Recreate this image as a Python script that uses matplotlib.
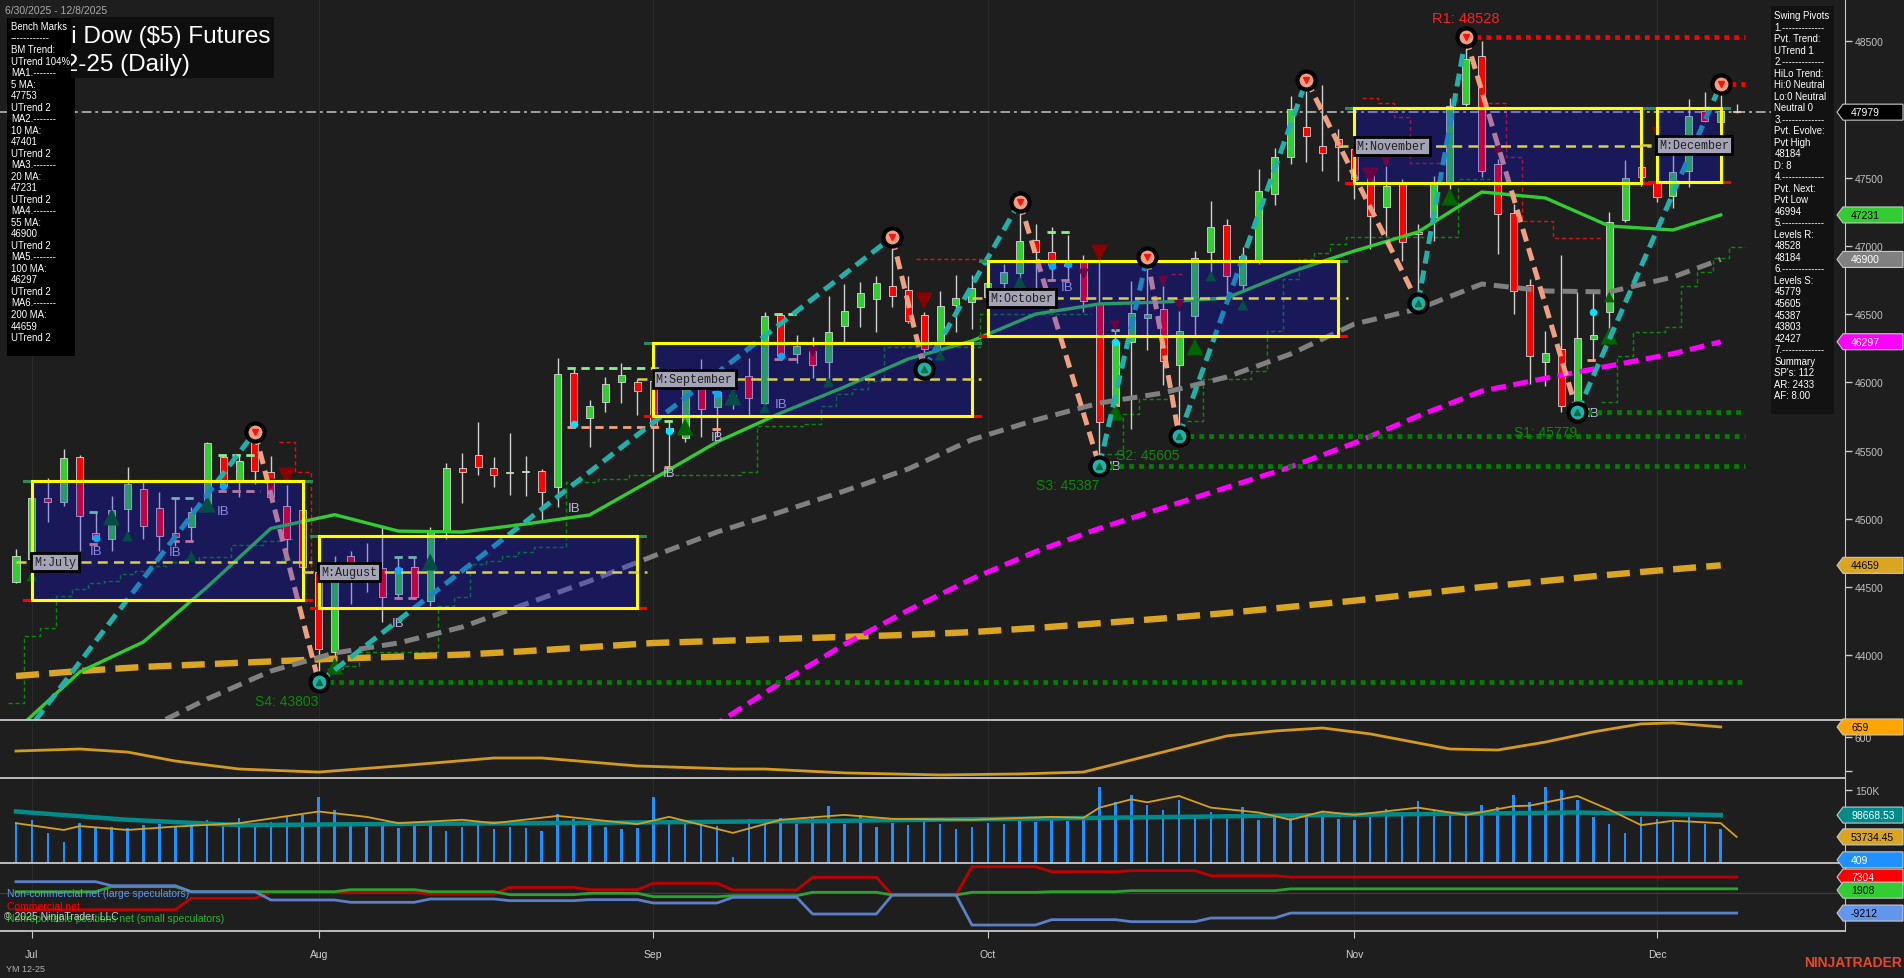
"""Daily YM 12-25 chart (NinjaTrader style) rebuilt with matplotlib."""

import matplotlib

matplotlib.use("Agg")
import matplotlib.pyplot as plt
import numpy as np
from matplotlib.patches import Polygon, Rectangle

plt.rcParams["font.family"] = ["Liberation Sans", "DejaVu Sans"]

W, H = 1904, 979
BG = "#1e1e1e"
GRID = "#2a2a2a"
AXIS = "#c8c8c8"
TICK_TXT = "#c0c0c0"
nan = np.nan

# ---- daily bars, Jul 7 .. Dec 8 2025 (bar index 0..108) ----
opens = [44537, 44705, 45152, 45123, 45453, 44896, 44852, 45072, 45218, 45079,
         44896, 44940, 45108, 45453, 45270, 45570, 45343, 45094, 45064, 44610,
         44024, 44727, 44581, 44639, 44449, 44647, 44398, 44911, 45372, 45467,
         45372, 45336, 45343, 45350, 45233, 46068, 45738, 45856, 46002, 46002,
         46010, 45643, 45592, 45951, 45819, 45905, 46046, 45848, 46493, 46207,
         46229, 46149, 46412, 46552, 46610, 46705, 46676, 46493, 46288, 46566,
         46588, 46625, 46727, 46801, 47042, 46955, 46867, 46881, 46574, 45826,
         46295, 46471, 46537, 46127, 46486, 46955, 47152, 46713, 46881, 47380,
         47650, 47870, 47731, 47782, 47709, 47541, 47284, 47467, 47101, 47211,
         47453, 48039, 48390, 47599, 47240, 46713, 46149, 46244, 45856, 46317,
         46515, 47189, 47577, 47467, 47365, 47548, 47988, 47907, 47990]
highs = [44779, 45255, 45299, 45511, 45467, 45050, 45167, 45379, 45277, 45196,
         45152, 45086, 45563, 45467, 45475, 45636, 45460, 45248, 45189, 44632,
         44727, 44764, 44823, 44947, 44720, 44720, 44940, 45409, 45482, 45709,
         45453, 45629, 45460, 45365, 46178, 46097, 45870, 46039, 46141, 46024,
         46149, 45716, 46046, 46171, 45935, 45988, 46178, 46515, 46508, 46347,
         46332, 46632, 46720, 46735, 46779, 47064, 46779, 46515, 46669, 46786,
         46786, 46771, 46867, 47321, 47160, 47138, 47079, 46933, 46903, 46376,
         46742, 46918, 46705, 46522, 46962, 47328, 47196, 46991, 47563, 47720,
         48100, 48215, 48178, 47856, 47782, 47563, 47585, 47489, 47160, 47511,
         48083, 48528, 48500, 47636, 47306, 46757, 46376, 46933, 46661, 46661,
         47248, 47629, 47658, 47841, 47673, 48075, 48127, 48184, 48040]
lows = [44530, 44684, 44976, 45094, 44764, 44837, 44764, 44903, 44852, 44764,
        44801, 44830, 45086, 45218, 45160, 45255, 45145, 44705, 44647, 43803,
        43973, 44376, 44464, 44244, 44420, 44412, 44361, 44852, 45116, 45321,
        45233, 45174, 45167, 44976, 45086, 45673, 45526, 45782, 45848, 45760,
        45343, 45379, 45563, 45599, 45599, 45804, 45760, 45819, 46185, 46141,
        46032, 46010, 46295, 46405, 46368, 46552, 46434, 46097, 46229, 46368,
        46390, 46574, 46559, 46713, 46647, 46757, 46757, 46515, 45387, 45804,
        45658, 46237, 45980, 45605, 46332, 46808, 46632, 46662, 46867, 47300,
        47600, 47614, 47548, 47475, 47343, 46977, 47072, 46889, 46581, 47035,
        47416, 48024, 47504, 46940, 46500, 45988, 45973, 45782, 45779, 46156,
        46317, 47174, 47438, 47321, 47277, 47431, 47907, 47892, 47975]
closes = [44727, 45152, 45123, 45445, 45020, 44852, 45064, 45255, 44947, 44874,
          44867, 45050, 45555, 45240, 45423, 45350, 45160, 44852, 44647, 44046,
          44632, 44581, 44654, 44427, 44639, 44427, 44903, 45372, 45343, 45379,
          45321, 45340, 45345, 45196, 46061, 45687, 45826, 45988, 46053, 45936,
          45680, 45665, 46024, 45804, 45929, 45895, 45885, 46486, 46193, 46266,
          46127, 46368, 46522, 46654, 46727, 46632, 46449, 46244, 46559, 46618,
          46691, 46727, 46808, 47035, 46955, 46859, 46852, 46596, 45709, 46295,
          46508, 46500, 46156, 46376, 46911, 47138, 46779, 46925, 47401, 47650,
          48000, 47804, 47680, 47724, 47489, 47218, 47438, 47028, 47086, 47467,
          48024, 48368, 47548, 47233, 46669, 46193, 46215, 45826, 46325, 46347,
          47174, 47497, 47504, 47357, 47541, 47951, 47914, 47988, 47979]

# month boundaries on the x axis
month_labels = ["Jul", "Aug", "Sep", "Oct", "Nov", "Dec"]
month_bars = [1, 19, 40, 61, 84, 103]

# moving averages, read every 4th bar
ma_bars = [0, 4, 8, 12, 16, 20, 24, 28, 32, 36, 40, 44, 48, 52,
           56, 60, 64, 68, 72, 76, 80, 84, 88, 92, 96, 100, 104, 107]
ma20 = [43450, 43878, 44098, 44500, 44930, 45030, 44910, 44903, 44962, 45028,
        45292, 45563, 45775, 45966, 46171, 46303, 46500, 46574, 46588, 46618,
        46808, 46962, 47101, 47394, 47350, 47145, 47116, 47226]
ma55 = [43100, 43250, 43450, 43680, 43885, 44017, 44090, 44207, 44376, 44544,
        44727, 44903, 45050, 45204, 45365, 45580, 45724, 45848, 45922, 46039,
        46207, 46427, 46537, 46720, 46669, 46662, 46771, 46900]
ma100 = [nan] * 10 + [43200, 43500, 43800, 44080, 44330, 44560, 44760, 44930,
                      45080, 45230, 45380, 45555, 45753, 45936, 46030, 46120,
                      46210, 46297]
ma200 = [43848, 43885, 43915, 43935, 43955, 43975, 43990, 44005, 44030, 44060,
         44090, 44105, 44120, 44135, 44150, 44170, 44200, 44235, 44270, 44310,
         44355, 44400, 44450, 44500, 44545, 44590, 44630, 44659]

# trailing stop steps (value holds from its bar edge to the next one, nan = gap)
gstop_bars = [-0.5, 0.5, 1.5, 2.5, 3.5, 4.5, 5.5, 6.5, 7.5, 8.5, 9.5, 10.5, 11.5, 13.5,
              15.5, 16.5, 17.5,
              19.5, 20.5, 21.5, 26.5, 27.5, 28.5, 29.5, 30.5, 31.5, 32.5, 34.5, 36.5,
              38.5, 45.5, 46.5, 49.5, 50.5, 51.5, 52.5, 53.5, 54.5, 60.5, 67.5,
              68.5, 69.5, 70.5, 72.5,
              73.5, 74.5, 77.5, 78.5, 79.5, 80.5, 81.5, 82.5, 83.5, 90.5, 92.5,
              99.5, 100.5, 101.5, 103.5, 104.5, 105.5, 106.5, 107.5, 108.5]
gstop_vals = [43651, 44141, 44200, 44434, 44486, 44530, 44544, 44596, 44618, 44654,
              44684, 44698, 44720, 44808, 44837, 44852, nan,
              43900, 43922, 44024, 44361, 44427, 44669, 44691, 44727, 44757, 44793,
              45270, 45292, 45321, 45343, 45680, 45695, 45826, 45914, 45951, 46010,
              46259, 46500, nan,
              45475, 45768, 45878, nan,
              45716, 46024, 46083, 46376, 46757, 46903, 46947, 47013, 47064, 47489, nan,
              45856, 46193, 46368, 46405, 46706, 46808, 46911, 46991, 46991]
rstop_bars = [16.5, 17.5, 18.5, 19.4, 56.5, 61, 72.5, 73.4, 84.5, 85.5, 86.5, 87.5,
              89.7, 92.4, 93.5, 94.5, 96.5, 99.6]
rstop_vals = [45563, 45343, 44618, nan, 46903, nan, 46793, nan, 48083, 48046, 47943,
              47606, nan, 48046, 47650, 47182, 47057, nan]

# inside-bar ranges: mother bar high / low ticks
ibr_start = [4.6, 9.7, 12.7, 23.7, 34.6, 40.7, 43.7, 47.6, 64.7, 68.7, 98.6]
ibr_end = [5.4, 11.4, 15.3, 25.4, 40.4, 41.4, 44.3, 49.3, 66.4, 69.4, 99.4]
ibr_high = [45050, 45152, 45467, 44720, 46105, 45716, 45929, 46500, 47100, 46383, 46661]
ibr_low = [44815, 44838, 45204, 44420, 45673, 45380, 45658, 46171, 46749, 45834, 46163]

# monthly range boxes
box_names = ["July", "August", "September", "October", "November", "December"]
box_start = [1, 19, 40, 61, 84, 103]
box_end = [18, 39, 60, 83, 102, 107]
box_top = [45277, 44874, 46288, 46889, 48009, 48009]
box_bot = [44405, 44347, 45753, 46339, 47460, 47467]
box_mid = [44683, 44610, 46024, 46618, 47731, 47738]

# swing pivots (zig-zag)
piv_bars = [-2, 15, 19, 55, 57, 63, 68, 71, 73, 81, 88, 91, 98, 107]
piv_prices = [43030, 45636, 43803, 47064, 46097, 47321, 45387, 46918, 45605,
              48215, 46581, 48528, 45779, 48184]

# support / resistance levels
sup_names = ["S1", "S2", "S3", "S4"]
sup_levels = [45779, 45605, 45387, 43803]
sup_from = [98, 73, 68, 19]
res_level = 48528
res_from = 91
last_price = 47979

# chart markers
ib_bars = [5, 10, 13, 24, 35, 41, 44, 48, 66, 69, 99]
ib_prices = [44764, 44757, 45057, 44237, 45079, 45335, 45599, 45841, 46698, 45387, 45775]
up_bars = [1, 6, 7, 11, 12, 17, 20, 26, 42, 45, 47, 51, 58, 63, 69, 74, 75, 77, 90, 100, 100]
up_prices = [44581, 45013, 44874, 44727, 45108, 44727, 43921, 44683, 45673, 45892, 45812,
             46002, 46200, 46720, 45782, 46259, 46779, 46566, 47357, 46625, 46339]
up_big = [0, 1, 0, 0, 1, 0, 1, 1, 1, 1, 0, 0, 0, 1, 1, 1, 0, 0, 1, 0, 1]
dn_bars = [16, 17, 50, 57, 67, 68, 69, 72, 73, 85, 86, 93, 103]
dn_prices = [45255, 45314, 46222, 46596, 46793, 46947, 46413, 46742, 46566, 47511,
             47614, 47694, 47834]
dn_big = [0, 1, 0, 1, 0, 1, 0, 0, 0, 1, 0, 0, 0]
dot_bars = [5, 13, 24, 35, 41, 44, 48, 65, 66, 69, 99]
dot_prices = [44859, 45240, 44625, 45695, 45643, 45914, 46193, 46852, 46867, 46295, 46515]

# lower panel 1 (orange oscillator)
osc_bars = [0, 4, 7, 10, 14, 19, 24, 30, 33, 39, 45, 47, 52, 58, 63, 67, 72, 76,
            79, 82, 85, 90, 93, 96, 99, 102, 104, 107]
osc_vals = [517, 529, 511, 458, 411, 393, 429, 476, 476, 429, 411, 411, 388, 376,
            382, 393, 511, 606, 635, 653, 618, 529, 523, 570, 630, 677, 683, 659]

# lower panel 2 (volume, thousands)
volume_k = [85, 89, 62, 44, 82, 75, 75, 72, 78, 80,
            75, 80, 88, 85, 92, 80, 85, 95, 98, 135,
            110, 85, 75, 80, 72, 78, 80, 66, 74, 82,
            70, 75, 72, 65, 100, 90, 80, 75, 70, 72,
            135, 85, 80, 88, 76, 13, 90, 85, 92, 80,
            95, 118, 80, 98, 75, 82, 78, 85, 80, 70,
            75, 82, 80, 88, 84, 90, 86, 95, 157, 125,
            140, 120, 110, 130, 95, 105, 90, 115, 88, 100,
            92, 95, 105, 90, 88, 95, 112, 98, 128, 110,
            100, 105, 120, 115, 140, 125, 157, 150, 130, 95,
            80, 62, 95, 90, 85, 95, 80, 70, 0.4]
vol_slow_bars = [0, 7, 14, 22, 37, 52, 68, 83, 98, 107]
vol_slow_k = [106, 89, 78, 80, 83, 87, 93, 99, 104, 98.7]
vol_fast_bars = [0, 3, 4, 7, 10, 14, 19, 22, 24, 28, 30, 34, 39, 41, 45, 48, 52, 55, 60, 65,
                 67, 68, 70, 71, 73, 75, 78, 80, 82, 84, 88, 91, 94, 95, 98, 100, 102, 104,
                 107, 108]
vol_fast_k = [82, 68, 76, 68, 75, 82, 106, 95, 82, 89, 82, 97, 80, 95, 62, 89, 99, 91, 89, 95,
              93, 114, 131, 125, 138, 114, 104, 89, 106, 99, 114, 99, 117, 118, 138, 110, 78,
              87, 82, 53.7]

# lower panel 3 (COT net positions, weekly)
cot_start = [0, 6, 11, 16, 21, 26, 31, 36, 40, 45, 50, 55, 60, 65, 70, 75, 80]
cot_noncomm = [5190, 3350, 600, -3210, -4280, -2750, -3520, -3060, -4590, -1990,
               -9640, -920, -14690, -12240, -13160, -11480, -9212]
cot_comm = [-7670, -7670, -2430, 320, 320, -460, 2600, 1530, 4440, 1380,
            7200, -920, 12070, 9780, 10240, 7940, 7304]
cot_small = [600, 2900, 600, 600, 1530, 600, -780, -140, -1700, -1240,
             320, -920, 320, 600, 1060, 1060, 1908]

N = len(closes)
bars = np.arange(N)
XLIM = (-1.004, 114.8)

fig = plt.figure(figsize=(W / 100, H / 100), dpi=100, facecolor=BG)


def add_panel(top, bottom, ylim):
    axis = fig.add_axes([0, 1 - bottom / H, 1845 / W, (bottom - top) / H], facecolor=BG)
    axis.set_xlim(*XLIM)
    axis.set_ylim(*ylim)
    for side in ("top", "left", "bottom"):
        axis.spines[side].set_visible(False)
    axis.spines["right"].set_color(AXIS)
    axis.yaxis.tick_right()
    axis.tick_params(axis="y", colors=AXIS, labelcolor=TICK_TXT, length=5, width=1,
                     labelsize=7.5, pad=2)
    axis.tick_params(axis="x", bottom=False, labelbottom=False)
    axis.set_xticks(month_bars)
    axis.grid(axis="x", color=GRID, lw=0.8)
    return axis


ax = add_panel(0, 721, (43526, 48808))
ax_osc = add_panel(721, 779, (358, 700))
ax_vol = add_panel(779, 864, (0, 175))
ax_cot = add_panel(864, 932, (-17440, 13770))

for y in (721, 779, 864, 932):
    fig.add_artist(plt.Line2D([0, 1845 / W], [1 - y / H] * 2, color=AXIS, lw=1.3, zorder=5))

# ---- main price panel ----
ax.set_yticks([44000, 44500, 45000, 45500, 46000, 46500, 47000, 47500, 48000, 48500])

ax.axhline(last_price, color="#a0a0a0", lw=1.4, ls=(0, (5, 2, 1.5, 2)), zorder=2)
ax.plot(gstop_bars, gstop_vals, drawstyle="steps-post", color="#0a8a0a", lw=1.0,
        ls=(0, (3, 2)), zorder=2.5)
ax.plot(rstop_bars, rstop_vals, drawstyle="steps-post", color="#e01010", lw=1.0,
        ls=(0, (3, 2)), zorder=2.5)

body_w = 0.44
for i in bars:
    o, hi, lo, c = opens[i], highs[i], lows[i], closes[i]
    ax.vlines(i, lo, hi, color="#d0d0d0", lw=1.0, zorder=3)
    color = "#32cd32" if c >= o else "#ff0000"
    bottom = min(o, c)
    height = max(abs(c - o), 8)
    ax.add_patch(Rectangle((i - body_w / 2, bottom), body_w, height, facecolor=color,
                           edgecolor="#d8d8d8", lw=0.6, zorder=3.2))

for b0, b1, hi, lo in zip(ibr_start, ibr_end, ibr_high, ibr_low):
    ax.plot([b0, b1], [hi, hi], color="#90ee90", lw=2, ls=(0, (3, 2)), zorder=3.3)
    ax.plot([b0, b1], [lo, lo], color="#f4a080", lw=2, ls=(0, (3, 2)), zorder=3.3)

ax.plot(ma_bars, ma200, color="#daa520", lw=4.6, ls=(0, (3.6, 1.6)), zorder=3.5)
ax.plot(ma_bars, ma100, color="#ff00ff", lw=3.6, ls=(0, (3, 1.5)), zorder=3.5)
ax.plot(ma_bars, ma55, color="#808080", lw=3.6, ls=(0, (3, 1.6)), zorder=3.5)
ax.plot(ma_bars, ma20, color="#32cd32", lw=2.4, zorder=3.6)

for k in range(len(piv_bars) - 1):
    up = piv_prices[k + 1] > piv_prices[k]
    ax.plot(piv_bars[k:k + 2], piv_prices[k:k + 2], color="#20b2aa" if up else "#f0a080",
            lw=3.6, ls=(0, (2.6, 1.4)), zorder=4)

ax.scatter(up_bars, up_prices, marker="^", s=[150 if b else 60 for b in up_big],
           color="#006400", zorder=3.8, linewidths=0)
ax.scatter(dn_bars, dn_prices, marker="v", s=[150 if b else 60 for b in dn_big],
           color="#8b0000", zorder=3.8, linewidths=0)
ax.scatter(dot_bars, dot_prices, s=30, color="#00e5ff", zorder=3.9, linewidths=0)
for b, p in zip(ib_bars, ib_prices):
    ax.text(b, p, "IB", color="#b8b8dc", fontsize=9.5, ha="center", va="center", zorder=3.9)

for name, b0, b1, top, bot, mid in zip(box_names, box_start, box_end, box_top, box_bot, box_mid):
    ax.add_patch(Rectangle((b0, bot), b1 - b0, top - bot, facecolor=(0.06, 0.06, 1.0),
                           alpha=0.27, edgecolor="none", zorder=5))
    ax.plot([b0 - 0.5, b1 + 0.5], [top, top], color="#2e8b57", lw=2.2, zorder=5.5)
    ax.plot([b0 - 0.5, b1 + 0.5], [bot, bot], color="#ff0000", lw=2.2, zorder=5.5)
    ax.add_patch(Rectangle((b0, bot), b1 - b0, top - bot, facecolor="none",
                           edgecolor="#ffff00", lw=2.2, zorder=6))
    ax.plot([b0 - 1, b1 + 0.6], [mid, mid], color="#d8d040", lw=1.8, ls=(0, (4, 2.5)), zorder=6)
    ax.text(b0 + 0.15, mid, "M:" + name, family="Liberation Mono", fontsize=8.5, color="#202020",
            ha="left", va="center", zorder=8,
            bbox=dict(boxstyle="square,pad=0.25", facecolor="#a4a4b6", edgecolor="black", lw=2))

dotted = (0, (1, 1.1))
ax.plot([res_from, 108.5], [res_level, res_level], color="#ff0000", lw=3.4, ls=dotted, zorder=6)
ax.plot([piv_bars[-1], 108.5], [piv_prices[-1]] * 2, color="#ff0000", lw=3.4, ls=dotted, zorder=6)
ax.text(res_from, res_level + 140, f"R1: {res_level}", color="#ff2020", fontsize=10.5,
        ha="center", va="center", zorder=7)
for name, lvl, b in zip(sup_names, sup_levels, sup_from):
    ax.plot([b, 108.5], [lvl, lvl], color="#008000", lw=3.4, ls=dotted, zorder=6)
    ax.text(b, lvl - 140, f"{name}: {lvl}", color="#0a8a0a", fontsize=10, ha="right",
            va="center", zorder=7)

piv_hi = [(b, p) for k, (b, p) in enumerate(zip(piv_bars, piv_prices)) if k % 2 == 1]
piv_lo = [(b, p) for k, (b, p) in enumerate(zip(piv_bars, piv_prices)) if k % 2 == 0 and k > 0]
ax.plot(*zip(*piv_hi), ls="none", marker="o", ms=13, mfc="#f0a080", mec="black", mew=3, zorder=9)
ax.plot(*zip(*piv_hi), ls="none", marker="v", ms=5, color="#ff1010", zorder=9.5)
ax.plot(*zip(*piv_lo), ls="none", marker="o", ms=13, mfc="#20b2aa", mec="black", mew=3, zorder=9)
ax.plot(*zip(*piv_lo), ls="none", marker="^", ms=5, color="#0b6b3a", zorder=9.5)

# ---- oscillator panel ----
ax_osc.plot(osc_bars, osc_vals, color="#d49a1c", lw=2.0)
ax_osc.set_yticks([400, 600])
ax_osc.set_yticklabels(["", "600"])

# ---- volume panel ----
ax_vol.bar(bars, volume_k, width=0.16, color="#1e90ff", zorder=2)
ax_vol.plot(vol_slow_bars, vol_slow_k, color="#008b8b", lw=3.2, zorder=3)
ax_vol.plot(vol_fast_bars, vol_fast_k, color="#d4a020", lw=1.3, zorder=4)
ax_vol.set_yticks([150])
ax_vol.set_yticklabels(["150K"])

# ---- COT panel ----
week_of_bar = np.searchsorted(cot_start, bars, side="right") - 1
ax_cot.axhline(0, color="#3c3c3c", lw=1)
ax_cot.plot(bars, np.array(cot_comm)[week_of_bar], color="#c00000", lw=2)
ax_cot.plot(bars, np.array(cot_small)[week_of_bar], color="#2ea02e", lw=2)
ax_cot.plot(bars, np.array(cot_noncomm)[week_of_bar], color="#5b80c8", lw=2)
ax_cot.set_yticks([])
ax_cot.tick_params(axis="x", bottom=True, labelbottom=True, colors=AXIS, labelcolor="#d0d0d0",
                   length=5, labelsize=7.5, pad=8)
ax_cot.set_xticklabels(month_labels)
ax_cot.text(0.004, 0.56, "Non-commercial net (large speculators)", transform=ax_cot.transAxes,
            color="#6495ed", fontsize=7.5, va="center")
ax_cot.text(0.004, 0.37, "Commercial net", transform=ax_cot.transAxes, color="#ff0000",
            fontsize=7.5, va="center")
ax_cot.text(0.004, 0.19, "Nonreportable positions net (small speculators)",
            transform=ax_cot.transAxes, color="#2fb52f", fontsize=7.5, va="center")
ax_cot.text(0.002, 0.22, "\u00a9 2025 NinjaTrader, LLC", transform=ax_cot.transAxes,
            color="#c8c8c8", fontsize=7.5, va="center")


def price_tag(axis, value, text, face, ink):
    y = axis.transData.transform((0, value))[1]
    pts = [(1837, y), (1843, y + 8), (1903, y + 8), (1903, y - 8), (1843, y - 8)]
    fig.add_artist(Polygon([(px / W, py / H) for px, py in pts], closed=True,
                           transform=fig.transFigure, facecolor=face, edgecolor="#c8c8c8",
                           lw=0.8, zorder=30))
    fig.text(1851 / W, y / H, text, color=ink, fontsize=7.5, va="center", ha="left", zorder=31)


price_tag(ax, last_price, "47979", "#000000", "white")
price_tag(ax, ma20[-1], "47231", "#32cd32", "black")
price_tag(ax, ma55[-1], "46900", "#808080", "white")
price_tag(ax, ma100[-1], "46297", "#ff00ff", "white")
price_tag(ax, ma200[-1], "44659", "#daa520", "black")
price_tag(ax_osc, osc_vals[-1], "659", "#ffa500", "black")
price_tag(ax_vol, 98.66853, "98668.53", "#008b8b", "white")
price_tag(ax_vol, 53.73445, "53734.45", "#daa520", "black")
price_tag(ax_vol, 6.5, "409", "#1e90ff", "white")
price_tag(ax_cot, cot_comm[-1], "7304", "#ff0000", "white")
price_tag(ax_cot, cot_small[-1] - 600, "1908", "#32cd32", "black")
price_tag(ax_cot, cot_noncomm[-1], "-9212", "#6495ed", "black")

# ---- overlays: header, info boxes, title ----
fig.text(5 / W, 1 - 11 / H, "6/30/2025 - 12/8/2025", color="#a8a8a8", fontsize=7.5, va="center")

bench_lines = ["Bench Marks", "------------", "BM Trend:", "UTrend 104%",
               "MA1.-------", "5 MA:", "47753", "UTrend 2",
               "MA2.-------", "10 MA:", "47401", "UTrend 2",
               "MA3.-------", "20 MA:", "47231", "UTrend 2",
               "MA4.-------", "55 MA:", "46900", "UTrend 2",
               "MA5.-------", "100 MA:", "46297", "UTrend 2",
               "MA6.-------", "200 MA:", "44659", "UTrend 2"]
pivot_lines = ["Swing Pivots", "1.-------------", "Pvt. Trend:", "UTrend 1",
               "2.-------------", "HiLo Trend:", "Hi:0 Neutral", "Lo:0 Neutral", "Neutral 0",
               "3.-------------", "Pvt. Evolve:", "Pvt High", "48184", "D: 8",
               "4.-------------", "Pvt. Next:", "Pvt Low", "46994",
               "5.-------------", "Levels R:", "48528", "48184",
               "6.-------------", "Levels S:", "45779", "45605", "45387", "43803", "42427",
               "7.-------------", "Summary", "SP's: 112", "AR: 2433", "AF: 8.00"]


def info_box(x0, y0, x1, y1, face, lines, tx, ty):
    fig.add_artist(Rectangle((x0 / W, 1 - y1 / H), (x1 - x0) / W, (y1 - y0) / H,
                             transform=fig.transFigure, facecolor=face, edgecolor="none",
                             zorder=22))
    for k, line in enumerate(lines):
        fig.text(tx / W, 1 - (ty + 11.52 * k) / H, line, color="white", fontsize=6.9,
                 va="center", ha="left", zorder=23)


info_box(7, 19, 75, 357, "#000000", bench_lines, 11, 27)
info_box(1771, 7, 1834, 415, "#121212", pivot_lines, 1774.5, 16)

# title panel sits on top of the bench box and clips its own text
title_box = Rectangle((70.5 / W, 1 - 79 / H), 203.5 / W, 61 / H, transform=fig.transFigure,
                      facecolor="#0e0e0e", edgecolor="none", zorder=24)
fig.add_artist(title_box)
for text, x_right, base in (("E-mini Dow ($5) Futures", 270, 43), ("YM 12-25 (Daily)", 190, 71)):
    t = fig.text(x_right / W, 1 - base / H, text, color="white", fontsize=17.5,
                 ha="right", va="baseline", zorder=25)
    t.set_clip_path(title_box)

fig.text(6 / W, 1 - 970 / H, "YM 12-25", color="#b0b0b0", fontsize=6.5, va="center")
fig.text(1902 / W, 1 - 963 / H, "NINJATRADER", color="#e8472a", fontsize=10,
         fontweight="bold", ha="right", va="center")

fig.savefig("out.png", dpi=100, facecolor=BG)
